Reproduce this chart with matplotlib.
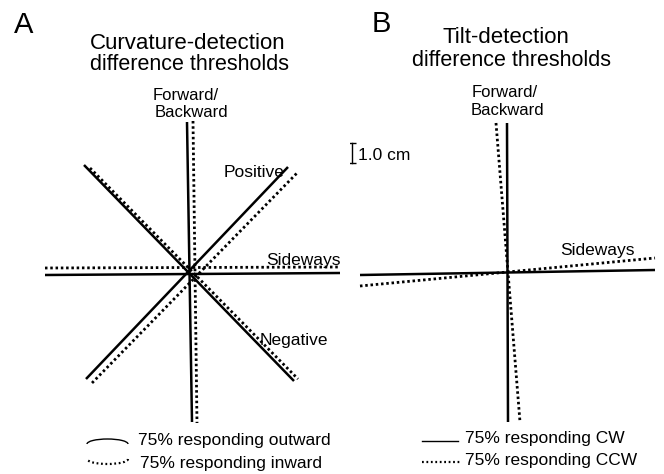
import matplotlib
matplotlib.use("Agg")
import matplotlib.pyplot as plt
from matplotlib.patches import Arc

plt.rcParams["font.family"] = ["Liberation Sans", "DejaVu Sans"]

# *****  Threshold lines, endpoints in cm relative to the panel centre  *****
# Panel A: curvature-detection thresholds (outward = solid, inward = dotted)
curv_axes = ["Forward/Backward", "Sideways", "Positive", "Negative"]
curv_out_x = [[-0.25, 0.0], [-7.35, 7.4], [-5.3, 4.8], [-5.4, 5.1]]
curv_out_y = [[7.55, -7.45], [-0.1, 0.0], [-5.3, 5.3], [5.4, -5.4]]
curv_in_x = [[0.05, 0.25], [-7.35, 7.4], [-5.0, 5.3], [-5.1, 5.3]]
curv_in_y = [[7.6, -7.5], [0.25, 0.3], [-5.5, 5.05], [5.25, -5.3]]

# Panel B: tilt-detection thresholds (CW = solid, CCW = dotted)
tilt_axes = ["Forward/Backward", "Sideways"]
tilt_cw_x = [[0.0, 0.05], [-7.35, 7.4]]
tilt_cw_y = [[7.5, -7.45], [-0.1, 0.15]]
tilt_ccw_x = [[-0.55, 0.65], [-7.35, 7.4]]
tilt_ccw_y = [[7.5, -7.45], [-0.65, 0.75]]

scale_bar_cm = 1.0

W, H = 664, 474
px_per_cm = 20.0
fig = plt.figure(figsize=(W / 100, H / 100), dpi=100)

# canvas in pixel coordinates for the lettering
canvas = fig.add_axes([0, 0, 1, 1])
canvas.set_xlim(0, W)
canvas.set_ylim(H, 0)
canvas.axis("off")


def panel(cx, x0, x1, y0=95, y1=430, cy=273):
    ax = fig.add_axes([x0 / W, (H - y1) / H, (x1 - x0) / W, (y1 - y0) / H])
    ax.set_xlim((x0 - cx) / px_per_cm, (x1 - cx) / px_per_cm)
    ax.set_ylim((cy - y1) / px_per_cm, (cy - y0) / px_per_cm)
    ax.axis("off")
    ax.patch.set_alpha(0)
    return ax


solid = dict(color="black", lw=1.8, solid_capstyle="butt")
dotted = dict(color="black", lw=2.0, linestyle=(0, (0.9, 1.0)))

axA = panel(192, 30, 350)
for i in range(len(curv_axes)):
    axA.plot(curv_in_x[i], curv_in_y[i], **dotted)
    axA.plot(curv_out_x[i], curv_out_y[i], **solid)

axB = panel(507, 350, 664)
for i in range(len(tilt_axes)):
    axB.plot(tilt_ccw_x[i], tilt_ccw_y[i], **dotted)
    axB.plot(tilt_cw_x[i], tilt_cw_y[i], **solid)

# scale bar
sb_x = (352 - 507) / px_per_cm
sb_top = (273 - 143) / px_per_cm
axB.plot([sb_x, sb_x], [sb_top, sb_top - scale_bar_cm], color="black", lw=1.0,
         marker="_", markersize=6, markeredgewidth=1.0)

# *****  Lettering  *****
def t(x, y, s, size=12, ha="center"):
    canvas.text(x, y, s, fontsize=size, ha=ha, va="baseline")

t(24, 33, "A", size=21)
t(381, 32, "B", size=21)
t(188, 49, "Curvature-detection", size=16)
t(189, 70, "difference thresholds", size=15.5)
t(506, 43, "Tilt-detection", size=16)
t(511, 66, "difference thresholds", size=15.5)

t(186, 100, "Forward/")
t(191, 117, "Backward")
t(505, 97, "Forward/")
t(507, 115, "Backward")

t(254, 177, "Positive", size=12.5)
t(303, 265, "Sideways", size=12.5)
t(294, 345, "Negative", size=12.5)
t(597, 255, "Sideways", size=12.5)
t(358, 160, "1.0 cm", ha="left", size=12.5)

# legend A (ellipse halves as keys)
canvas.add_patch(Arc((107.5, 444), 41, 10, theta1=180, theta2=360, color="black", lw=1.0))
canvas.add_patch(Arc((107.5, 459), 41, 10, theta1=0, theta2=180, color="black", lw=1.6,
                     linestyle=(0, (0.8, 1.2))))
t(138, 445, "75% responding outward", ha="left", size=12.5)
t(140, 468, "75% responding inward", ha="left", size=12.5)

# legend B
canvas.plot([422, 458], [441, 441], color="black", lw=1.0)
canvas.plot([422, 460], [462, 462], color="black", lw=1.6, linestyle=(0, (0.8, 1.2)))
t(465, 443, "75% responding CW", ha="left", size=12.5)
t(465, 465, "75% responding CCW", ha="left", size=12.5)

fig.savefig("out.png", dpi=100)
